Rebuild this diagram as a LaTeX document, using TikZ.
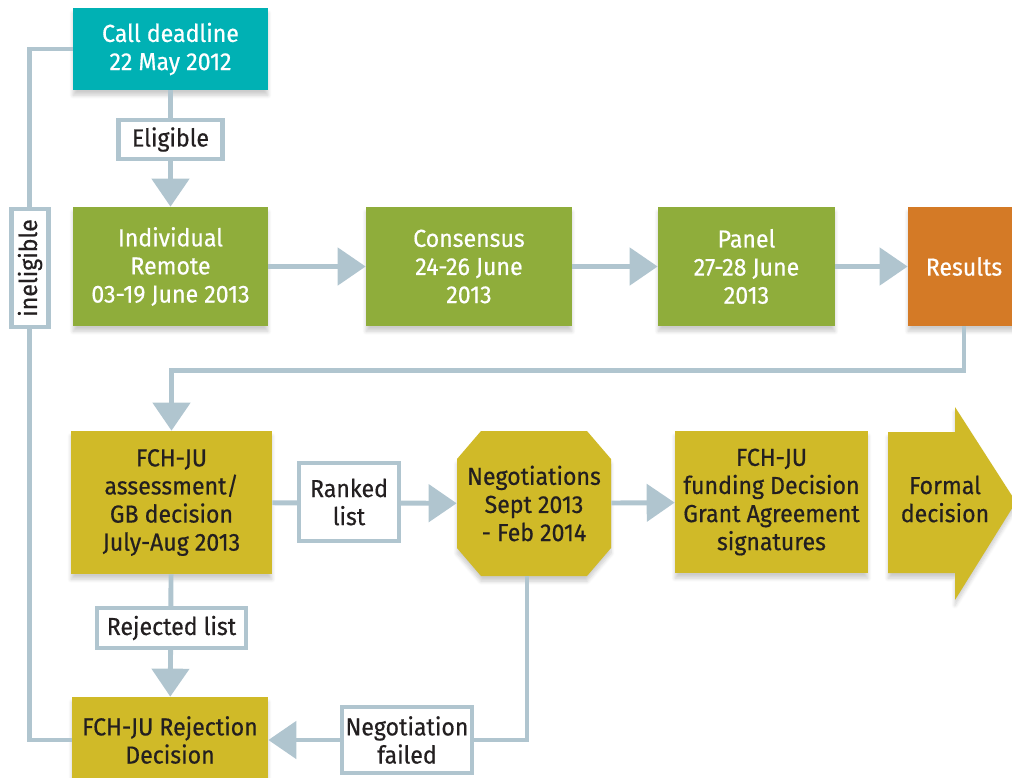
\documentclass[tikz,border=0pt]{standalone}
\usepackage{fontspec}
\setmainfont{Fira Sans}[FakeStretch=0.94, FakeBold=0.5]
\usetikzlibrary{arrows.meta, shadows.blur}
\definecolor{callteal}{RGB}{0,177,180}
\definecolor{evalgreen}{RGB}{143,173,59}
\definecolor{resorange}{RGB}{212,122,38}
\definecolor{mustard}{RGB}{208,186,40}
\definecolor{linkgrey}{RGB}{176,197,207}
\definecolor{inkdark}{RGB}{35,31,32}
\tikzstyle{softshadow} = [blur shadow={shadow blur steps=6, shadow xshift=0pt, shadow yshift=-3pt, shadow opacity=20}]
\tikzstyle{stage} = [rectangle, align=center, text=white, font=\fontsize{14}{16}\selectfont, inner sep=2pt, softshadow]
\tikzstyle{tag} = [rectangle, align=center, fill=white, draw=linkgrey, line width=2.6pt, text=inkdark, font=\fontsize{14}{16}\selectfont, inner sep=2pt]
\tikzstyle{link} = [draw=linkgrey, line width=2.8pt]
\tikzstyle{arr} = [link, -{Triangle[width=0.74cm, length=0.56cm]}]

\begin{document}
\begin{tikzpicture}[x=0.02cm, y=-0.02cm]
\useasboundingbox (0,0) rectangle (1012,778);
\clip (0,0) rectangle (1012,778);

% Call and evaluation row
\node[stage, fill=callteal, minimum width=3.9cm, minimum height=1.64cm] (call) at (170.5,49) {Call deadline\\22 May 2012};
\node[stage, fill=evalgreen, minimum width=3.9cm, minimum height=2.38cm] (indiv) at (170.5,266.5) {Individual\\Remote\\03-19 June 2013};
\node[stage, fill=evalgreen, minimum width=4.12cm, minimum height=2.38cm] (consensus) at (469,266.5) {Consensus\\24-26 June\\2013};
\node[stage, fill=evalgreen, minimum width=3.54cm, minimum height=2.38cm] (panel) at (746.5,266.5) {Panel\\27-28 June\\2013};
\node[stage, fill=resorange, minimum width=2.24cm, minimum height=2.38cm] (results) at (964,266.5) {Results};

% Decision row
\node[stage, fill=mustard, text=inkdark, minimum width=4.02cm, minimum height=2.86cm] (assess) at (171.5,502.5) {FCH-JU\\assessment/\\GB decision\\July-Aug 2013};
% octagon behind the negotiations text
\fill[mustard, softshadow] (481,431) -- (587,431) -- (611,459) -- (611,548) -- (587,576)
  -- (481,576) -- (457,548) -- (457,459) -- cycle;
\node[align=center, text=inkdark, font=\fontsize{14}{16}\selectfont, minimum width=3.08cm, minimum height=2.9cm] (nego) at (534,503.5) {Negotiations\\Sept 2013\\- Feb 2014};
\node[stage, fill=mustard, text=inkdark, minimum width=3.86cm, minimum height=2.84cm] (funding) at (771.5,502) {FCH-JU\\funding Decision\\Grant Agreement\\signatures};

% Formal decision arrow
\fill[mustard, softshadow]
  (888,432) -- (955,432) -- (955,407) -- (1016,502) -- (955,600) -- (955,573) -- (888,573) -- cycle;
\node[text=inkdark, align=center, font=\fontsize{14}{16}\selectfont] (formal) at (945,499) {Formal\\decision};

% Rejection
\node[stage, fill=mustard, text=inkdark, minimum width=3.92cm, minimum height=1.72cm] (reject) at (170,740) {FCH-JU Rejection\\Decision};

% Connectors
\draw[arr] (call) -- (indiv);
\draw[arr] (indiv) -- (consensus);
\draw[arr] (consensus) -- (panel);
\draw[arr] (panel) -- (results);
\draw[arr] (results.south) -- ++(0,44) -| (assess.north);
\draw[arr] (assess) -- (nego);
\draw[arr] (nego) -- (funding);
\draw[arr] (assess) -- (reject);
\draw[arr] ([xshift=-0.14cm]nego.south) |- (reject.east);
\draw[link] (call.west) -- ++(-43,0) |- (reject.west);

% Labels on connectors
\node[tag, minimum width=2.08cm, minimum height=0.78cm] (eligible) at (170.5,139.5) {Eligible};
\node[tag, minimum width=2.0cm, minimum height=1.56cm] (ranked) at (349,502) {Ranked\\list};
\node[tag, minimum width=2.98cm, minimum height=0.8cm] (rejected) at (171.5,628) {Rejected list};
\node[tag, minimum width=2.5cm, minimum height=1.32cm] (failed) at (407,740) {Negotiation\\failed};
\node[tag, rotate=90, minimum width=2.36cm, minimum height=0.74cm] (inelig) at (30,268) {ineligible};

\end{tikzpicture}
\end{document}
